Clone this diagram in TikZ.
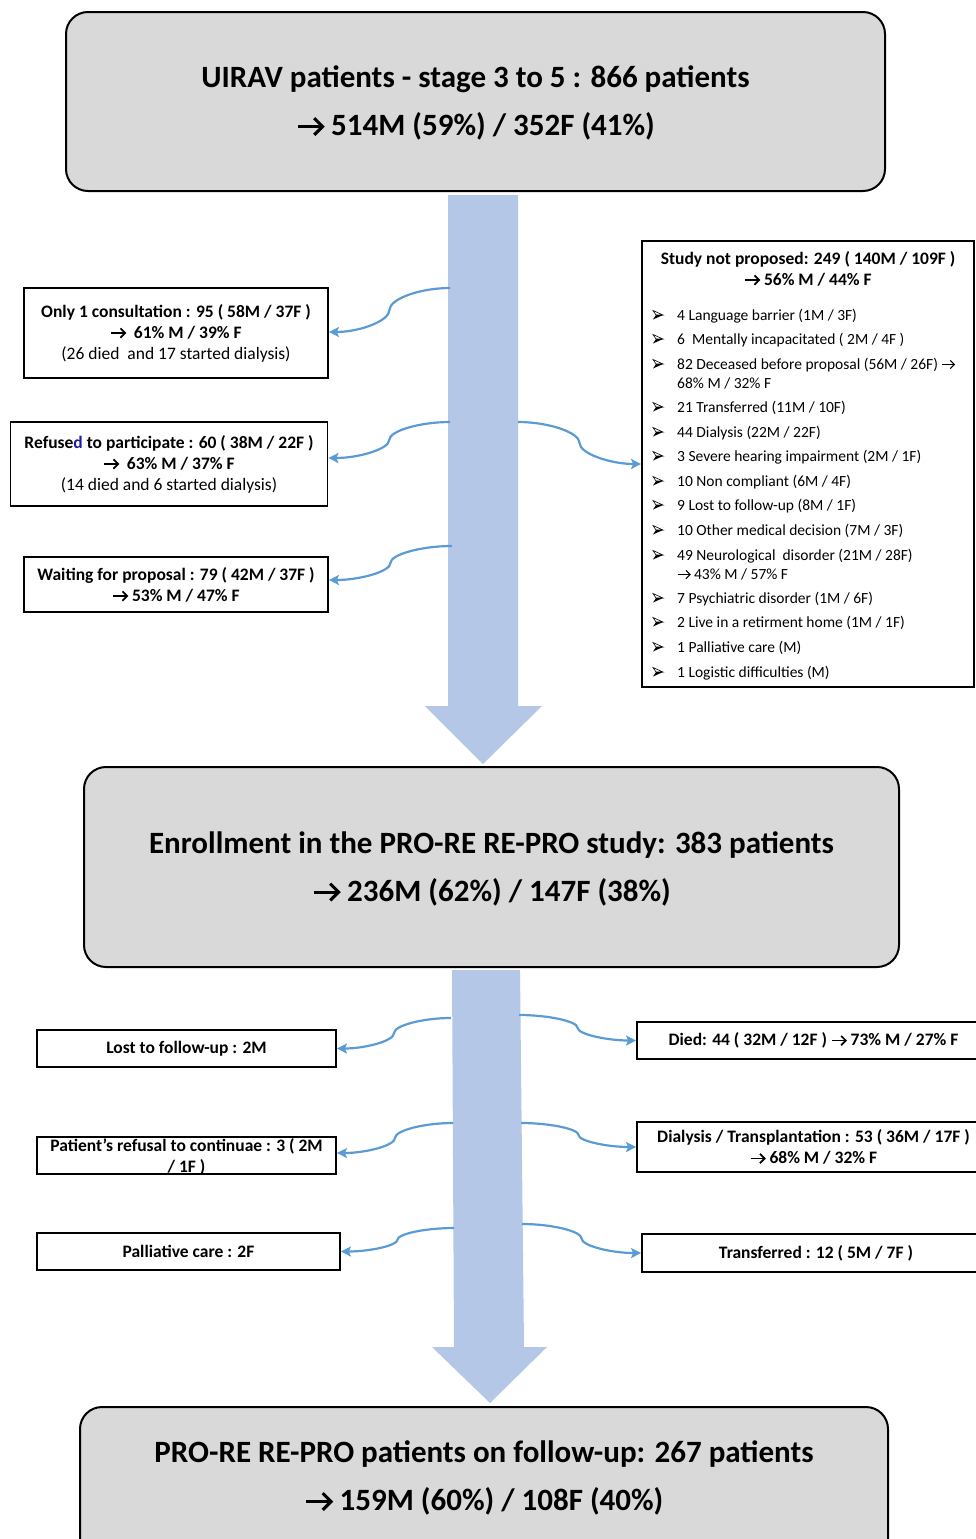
\documentclass[tikz,border=0pt]{standalone}
\usepackage{fontspec}
\setmainfont{Carlito}
\usetikzlibrary{calc,arrows.meta}
\definecolor{boxgray}{HTML}{D9D9D9}
\definecolor{flowblue}{HTML}{B4C7E7}
\definecolor{connblue}{HTML}{5B9BD5}
\definecolor{darkblue}{HTML}{1A1AA6}
% Wingdings-like arrow glyph (bold and regular weight)
\newcommand\arr{\tikz[baseline=0pt,x=1em,y=1em,line width=0.1em,line cap=butt,line join=miter]{%
  \draw[black] (0.02,0.29) -- (0.82,0.29); \draw[black] (0.55,0.56) -- (0.82,0.29) -- (0.55,0.02);}}
\newcommand\arrr{\tikz[baseline=0pt,x=1em,y=1em,line width=0.065em,line cap=butt,line join=miter]{%
  \draw[black] (0.02,0.29) -- (0.82,0.29); \draw[black] (0.55,0.56) -- (0.82,0.29) -- (0.55,0.02);}}
% three-d arrowhead bullet
\newcommand\bul{\tikz[baseline=0pt,x=10pt,y=9pt]{%
  \draw[black,line width=0.6pt,line join=miter,fill=white] (0,1) -- (1,0.5) -- (0.3,0.5) -- cycle;
  \fill[black] (0.3,0.5) -- (1,0.5) -- (0,0) -- cycle;}}
\newcommand\sconn[2]{%
  \coordinate (cA) at (#1); \coordinate (cB) at (#2);
  \coordinate (cM) at ($(cA)!.5!(cB)$);
  \coordinate (cQ) at ($(cA)!.25!(cB)$);
  \coordinate (cT) at ($(cA)!.75!(cB)$);
  \draw[conn] (cA) .. controls (cQ |- cA) and (cM |- cQ) .. (cM)
     .. controls (cM |- cT) and (cT |- cB) .. (cB);}
\begin{document}
\begin{tikzpicture}[x=1pt,y=-1pt,
  bigbox/.style={draw, line width=2pt, fill=boxgray, rounded corners=22pt, inner sep=0pt},
  bigtext/.style={inner sep=0pt, align=center, font=\bfseries\fontsize{31}{48}\selectfont},
  sbox/.style={draw, line width=1.8pt, fill=white, inner sep=0pt, align=center,
     font=\bfseries\fontsize{17.5}{21}\selectfont},
  stext/.style={inner sep=0pt, align=center, font=\bfseries\fontsize{17.5}{21}\selectfont},
  itemtext/.style={anchor=west, inner sep=0pt, text height=10pt, text depth=0pt,
     font=\fontsize{15.5}{19}\selectfont},
  bulnode/.style={inner sep=0pt, text height=9pt, text depth=0pt},
  conn/.style={draw=connblue, line width=2.2pt, -{Stealth[length=10pt,width=10pt,inset=2pt]}},
  flow/.style={fill=flowblue, draw=none}
]
\useasboundingbox (0,0) rectangle (975,1539);

% big flow arrows
\fill[flow] (448,195) -- (518,195) -- (518,706) -- (542,706) -- (483,764) -- (425,706) -- (448,706) -- cycle;
\fill[flow] (452,970) -- (520,970) -- (524,1347) -- (547,1347) -- (490,1403) -- (432,1347) -- (454,1347) -- cycle;

% main boxes
\node[bigbox, minimum width=819pt, minimum height=179pt] (top) at (475.5,101.5) {};
\node[bigtext] (toptxt) at (475.5,103)
  {UIRAV patients - stage 3 to 5 : 866 patients\\\arr\ 514M (59\%) / 352F (41\%)};
\node[bigbox, minimum width=815pt, minimum height=200pt] (mid) at (491.5,867) {};
\node[bigtext] (midtxt) at (491.5,868.5)
  {Enrollment in the PRO-RE RE-PRO study: 383 patients\\\arr\ 236M (62\%) / 147F (38\%)};
\node[bigbox, minimum width=808pt, minimum height=173pt] (bot) at (484,1493.5) {};
\node[bigtext] (bottxt) at (484,1478)
  {PRO-RE RE-PRO patients on follow-up: 267 patients\\\arr\ 159M (60\%) / 108F (40\%)};

% upper left boxes
\node[sbox, minimum width=304pt, minimum height=90pt] (b1) at (176,333)
  {Only 1 consultation : 95 ( 58M / 37F )\\\arr\ \ 61\% M / 39\% F\\{\mdseries (26 died\ \ and 17 started dialysis)}};
\node[sbox, minimum width=317pt, minimum height=84pt] (b2) at (169,464)
  {Refuse{\color{darkblue}d} to participate : 60 ( 38M / 22F )\\\arr\ \ 63\% M / 37\% F\\{\mdseries (14 died and 6 started dialysis)}};
\node[sbox, minimum width=304pt, minimum height=55pt] (b3) at (176,584.5)
  {Waiting for proposal : 79 ( 42M / 37F )\\\arr\ 53\% M / 47\% F};

% right list box
\node[draw, line width=1.8pt, fill=white, minimum width=332pt, minimum height=446pt, inner sep=0pt] (rb) at (808,464) {};
\node[stext] (rbt) at (808,268.5) {Study not proposed: 249 ( 140M / 109F )\\\arr\ 56\% M / 44\% F};
\node[bulnode] (u1) at (658,315) {\bul}; \node[itemtext] (i1) at (677,315) {4 Language barrier (1M / 3F)};
\node[bulnode] (u2) at (658,339) {\bul}; \node[itemtext] (i2) at (677,339) {6\ \ Mentally incapacitated ( 2M / 4F )};
\node[bulnode] (u3) at (658,364) {\bul}; \node[itemtext] (i3) at (677,364) {82 Deceased before proposal (56M / 26F) \arrr};
\node[itemtext] (i3b) at (677,383) {68\% M / 32\% F};
\node[bulnode] (u4) at (658,407) {\bul}; \node[itemtext] (i4) at (677,407) {21 Transferred (11M / 10F)};
\node[bulnode] (u5) at (658,432) {\bul}; \node[itemtext] (i5) at (677,432) {44 Dialysis (22M / 22F)};
\node[bulnode] (u6) at (658,456) {\bul}; \node[itemtext] (i6) at (677,456) {3 Severe hearing impairment (2M / 1F)};
\node[bulnode] (u7) at (658,481) {\bul}; \node[itemtext] (i7) at (677,481) {10 Non compliant (6M / 4F)};
\node[bulnode] (u8) at (658,505) {\bul}; \node[itemtext] (i8) at (677,505) {9 Lost to follow-up (8M / 1F)};
\node[bulnode] (u9) at (658,530) {\bul}; \node[itemtext] (i9) at (677,530) {10 Other medical decision (7M / 3F)};
\node[bulnode] (u10) at (658,555) {\bul}; \node[itemtext] (i10) at (677,555) {49 Neurological\ \ disorder (21M / 28F)};
\node[itemtext] (i10b) at (677,574) {\arrr\ 43\% M / 57\% F};
\node[bulnode] (u11) at (658,598) {\bul}; \node[itemtext] (i11) at (677,598) {7 Psychiatric disorder (1M / 6F)};
\node[bulnode] (u12) at (658,622) {\bul}; \node[itemtext] (i12) at (677,622) {2 Live in a retirment home (1M / 1F)};
\node[bulnode] (u13) at (658,647) {\bul}; \node[itemtext] (i13) at (677,647) {1 Palliative care (M)};
\node[bulnode] (u14) at (658,672) {\bul}; \node[itemtext] (i14) at (677,672) {1 Logistic difficulties (M)};

% lower boxes
\node[sbox, minimum width=299pt, minimum height=37pt] (l1) at (186.5,1048.5) {Lost to follow-up : 2M};
\node[sbox, minimum width=299pt, minimum height=37pt] (l2) at (186.5,1155.5) {};
\node[stext] (l2t) at (186.5,1156.5) {Patient’s refusal to continuae : 3 ( 2M\\/ 1F )};
\node[sbox, minimum width=303pt, minimum height=37pt] (l3) at (188.5,1251.5) {Palliative care : 2F};
\node[sbox, minimum width=353pt, minimum height=37pt] (r1) at (813.5,1040.5) {Died: 44 ( 32M / 12F ) \arr\ 73\% M / 27\% F};
\node[sbox, minimum width=353pt, minimum height=50pt] (r2) at (813.5,1147) {Dialysis / Transplantation : 53 ( 36M / 17F )\\\arr\ 68\% M / 32\% F};
\node[sbox, minimum width=348pt, minimum height=38pt] (r3) at (816,1253) {Transferred : 12 ( 5M / 7F )};

% connector start points on the flow arrows
\coordinate (s1) at (450,288);
\coordinate (s2) at (450,422);
\coordinate (s3) at (452,546);
\coordinate (s4) at (518,422);
\coordinate (s5) at (451,1018);
\coordinate (s6) at (453,1123);
\coordinate (s7) at (454,1228);
\coordinate (s8) at (519,1015);
\coordinate (s9) at (521,1123);
\coordinate (s10) at (522,1224);

\sconn{s1}{[yshift=1pt]b1.east}
\sconn{s2}{[yshift=6pt]b2.east}
\sconn{s3}{[yshift=4.5pt]b3.east}
\sconn{s4}{rb.west}
\sconn{s5}{l1.east}
\sconn{s6}{[yshift=2.5pt]l2.east}
\sconn{s7}{l3.east}
\sconn{s8}{r1.west}
\sconn{s9}{r2.west}
\sconn{s10}{r3.west}
\end{tikzpicture}
\end{document}
